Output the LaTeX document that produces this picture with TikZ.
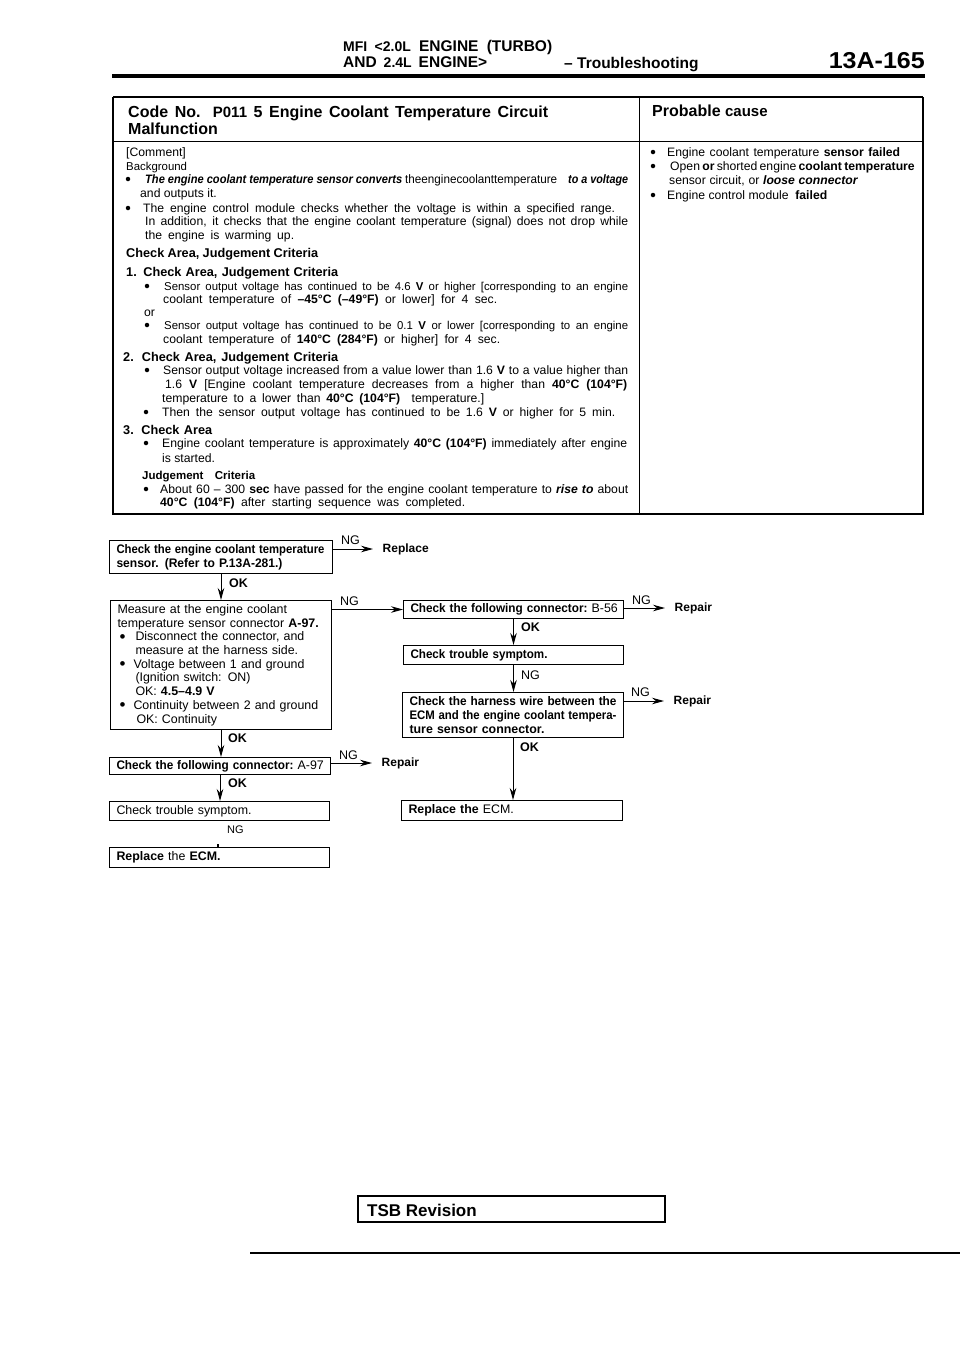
\documentclass[tikz,border=0pt]{standalone}
\usepackage{graphicx}
\usepackage{fontspec}
\setmainfont{Liberation Sans}
\usetikzlibrary{arrows.meta}
\newcommand{\just}[2]{\makebox[#1pt][s]{#2}}
\newcommand{\fitto}[2]{\resizebox{#1pt}{\height}{#2}}
\newcommand{\bul}{\makebox[10pt][c]{\raisebox{-1.5pt}{\fontsize{17}{13}\selectfont •}}}
\tikzset{
	x=1pt, y=-1pt,
	body/.style={anchor=base west, inner sep=0pt, font=\fontsize{12.2}{14}\selectfont},
	small/.style={anchor=base west, inner sep=0pt, font=\fontsize{11.4}{13}\selectfont},
	area/.style={anchor=base west, inner sep=0pt, font=\bfseries\fontsize{12.7}{14}\selectfont},
	head/.style={anchor=base west, inner sep=0pt, font=\bfseries\fontsize{16}{18}\selectfont},
	title/.style={anchor=base west, inner sep=0pt, font=\bfseries\fontsize{15.5}{18}\selectfont},
	dot/.style={circle, fill=black, inner sep=0pt, minimum size=4.5pt},
	flowbox/.style n args={2}{draw, line width=1pt, anchor=north west, inner xsep=7pt, inner ysep=0pt, minimum width=#1pt, minimum height=#2pt, text width={#1pt-14pt}, align=left, font=\fontsize{12.4}{13.7}\selectfont},
	result/.style={anchor=west, inner xsep=9.5pt, inner ysep=0pt, font=\bfseries\fontsize{12}{14}\selectfont},
	oklabel/.style={anchor=west, inner sep=0pt, font=\bfseries\fontsize{12.5}{14}\selectfont},
	nglabel/.style={anchor=west, inner sep=0pt, font=\fontsize{12.5}{14}\selectfont},
	flow/.style={line width=1pt, -{Stealth[length=12pt,width=6.5pt]}},
	rule/.style={line width=#1pt},
}
\begin{document}
\begin{tikzpicture}
	\useasboundingbox (0,0) rectangle (960,1358);
	% page head
	\node[title] (title1) at (343,51) {\just{209}{{\fontsize{14}{16}\selectfont MFI <2.0L} ENGINE (TURBO)}};
	\node[title] (title2) at (343,67) {\just{144}{AND {\fontsize{14}{16}\selectfont 2.4L} ENGINE>}};
	\node[title] (section) at (564,68) {-- Troubleshooting};
	\node[anchor=base east, inner sep=0pt, font=\bfseries\fontsize{23}{25}\selectfont] (pageno) at (925,68) {\fitto{96}{13A-165}};
	\draw[rule=3.5] (112,76) -- (925,76);
	% table frame
	\draw[rule=1.5] (113,97) -- (923,97);
	\draw[rule=2] (113,97) -- (113,514) -- (923,514) -- (923,97);
	\draw[rule=1] (113,141) -- (923,141);
	\draw[rule=1] (639,97) -- (639,514);
	\node[head] (code1) at (128,117) {\just{420}{Code No. {\fontsize{15}{17}\selectfont P011} 5 Engine Coolant Temperature Circuit}};
	\node[head] (code2) at (128,134) {Malfunction};
	\node[head] (causehead) at (652,116) {Probable {\fontsize{15}{17}\selectfont cause}};
	% left column
	\node[body] (comment) at (126,156) {[Comment]};
	\node[small] (background) at (126,170) {Background};
	\node[body] (sl1) at (145,183) {\fitto{257}{\bfseries\itshape The engine coolant temperature sensor converts}};
	\node[body] (sl1m) at (405,183) {\fitto{152}{theenginecoolanttemperature}};
	\node[body] (sl1b) at (568,183) {\fitto{60}{\bfseries\itshape to a voltage}};
	\node[body] (sl2) at (140,197) {and outputs it.};
	\node[body] (sl3) at (143,212) {\just{472}{The engine control module checks whether the voltage is within a specified range.}};
	\node[body] (sl4) at (145,225) {\just{483}{In addition, it checks that the engine coolant temperature (signal) does not drop while}};
	\node[body] (sl5) at (145,239) {\just{149}{the engine is warming up.}};
	\node[area] (area0) at (126,257) {\just{192}{Check Area, Judgement Criteria}};
	\node[area] (area1) at (126,276) {\just{212}{1. Check Area, Judgement Criteria}};
	\node[small] (a1) at (164,290) {\just{464}{Sensor output voltage has continued to be 4.6 \textbf{V} or higher [corresponding to an engine}};
	\node[body] (a2) at (163,303) {\just{334}{coolant temperature of \textbf{--45°C (--49°F)} or lower] for 4 sec.}};
	\node[body] (a3) at (144,316) {or};
	\node[small] (a4) at (164,329) {\just{464}{Sensor output voltage has continued to be 0.1 \textbf{V} or lower [corresponding to an engine}};
	\node[body] (a5) at (163,343) {\just{337}{coolant temperature of \textbf{140°C (284°F)} or higher] for 4 sec.}};
	\node[area] (area2) at (123,361) {\just{215}{2. Check Area, Judgement Criteria}};
	\node[body] (b1) at (163,374) {\just{465}{Sensor output voltage increased from a value lower than 1.6 \textbf{V} to a value higher than}};
	\node[body] (b2) at (165,388) {\just{462}{1.6 \textbf{V} [Engine coolant temperature decreases from a higher than \textbf{40°C (104°F)}}};
	\node[body] (b3) at (162,402) {\just{322}{temperature to a lower than \textbf{40°C (104°F)}\ \ temperature.]}};
	\node[body] (b4) at (162,416) {\just{453}{Then the sensor output voltage has continued to be 1.6 \textbf{V} or higher for 5 min.}};
	\node[area] (area3) at (123,434) {\just{89}{3. Check Area}};
	\node[body] (c1) at (162,447) {\just{465}{Engine coolant temperature is approximately \textbf{40°C (104°F)} immediately after engine}};
	\node[body] (c2) at (162,462) {is started.};
	\node[area, font=\bfseries\fontsize{11.5}{13}\selectfont] (area4) at (142,479) {\just{113}{Judgement\ \ Criteria}};
	\node[body] (d1) at (160,493) {\just{468}{About 60 -- 300 \textbf{sec} have passed for the engine coolant temperature to \textbf{\itshape rise to} about}};
	\node[body] (d2) at (160,506) {\just{305}{\textbf{40°C (104°F)} after starting sequence was completed.}};
	% right column
	\node[body] (p1) at (667,156) {\just{233}{Engine coolant temperature \textbf{sensor failed}}};
	\node[body] (p2) at (670,170) {\just{242}{Open \textbf{or} shorted engine \textbf{coolant temperature}}};
	\node[body] (p3) at (669,184) {\just{189}{sensor circuit, or \textbf{\itshape loose connector}}};
	\node[body] (p4) at (667,199) {Engine control module\ \ \textbf{failed}};
	% bullets
	\foreach \x/\y [count=\i] in {128/179, 128/208, 147/286, 147/325, 147/370, 146/412, 146/443, 146/489, 653/152, 653/166, 653/195}
		\node[dot] (bullet\i) at (\x,\y) {};
	% flow chart, left branch
	\node[flowbox={223}{33}] (sensor) at (109,540) {\fitto{208}{\bfseries Check the engine coolant temperature}\\\fitto{166}{\bfseries sensor. (Refer to P.13A-281.)}};
	\node[flowbox={221}{129}] (measure) at (110,600) {\just{175}{Measure at the engine coolant}\\\just{205}{temperature sensor connector \textbf{A-97.}}\\\bul\hspace*{8pt}\just{188}{Disconnect the connector, and}\\\hspace*{18pt}measure at the harness side.\\\bul\hspace*{6pt}\just{179}{Voltage between 1 and ground}\\\hspace*{18pt}(Ignition switch: ON)\\\hspace*{18pt}OK: \textbf{4.5--4.9 V}\\\bul\hspace*{6pt}\just{189}{Continuity between 2 and ground}\\\hspace*{19pt}OK: Continuity};
	\node[flowbox={221}{17}] (connA) at (109,757) {\mbox{\fitto{177}{\bfseries Check the following connector:} A-97}};
	\node[flowbox={220}{19}] (symptomA) at (109,801) {Check trouble symptom.};
	\node[flowbox={220}{20}] (ecmA) at (109,847) {\textbf{Replace} the \textbf{ECM.}};
	% flow chart, right branch
	\node[flowbox={220}{18}] (connB) at (403,600) {\mbox{\fitto{177}{\bfseries Check the following connector:} B-56}};
	\node[flowbox={220}{19}] (symptomB) at (403,645) {\fitto{137}{\bfseries Check trouble symptom.}};
	\node[flowbox={221}{45}] (harness) at (402,692) {\fitto{207}{\bfseries Check the harness wire between the}\\\fitto{207}{\bfseries ECM and the engine coolant tempera-}\\\fitto{135}{\bfseries ture sensor connector.}};
	\node[flowbox={221}{20}] (ecmB) at (401,800) {\textbf{Replace the} ECM.};
	\node[result] (replace) at (373,549) {Replace};
	\node[result] (repairA) at (372,763) {Repair};
	\node[result] (repairB) at (665,608) {Repair};
	\node[result] (repairC) at (664,701) {Repair};
	\coordinate (tick) at (218,844);
	% connectors
	\draw[flow] (sensor.east |- replace.west) -- (replace.west);
	\draw[flow] (measure.east |- connB.west) -- (connB.west);
	\draw[flow] (connA.east |- repairA.west) -- (repairA.west);
	\draw[flow] (connB.east |- repairB.west) -- (repairB.west);
	\draw[flow] (harness.east |- repairC.west) -- (repairC.west);
	\draw[flow] (sensor.south) -- (sensor.south |- measure.north);
	\draw[flow] (measure.south) -- (measure.south |- connA.north);
	\draw[flow] (connA.south) -- (connA.south |- symptomA.north);
	\draw[line width=1.5pt] (tick) -- (tick |- ecmA.north);
	\draw[flow] (connB.south) -- (connB.south |- symptomB.north);
	\draw[flow] (symptomB.south) -- (symptomB.south |- harness.north);
	\draw[flow] (harness.south) -- (harness.south |- ecmB.north);
	% connector labels
	\node[nglabel] (ng1) at (341,540) {NG};
	\node[nglabel] (ng2) at (340,601) {NG};
	\node[nglabel] (ng3) at (339,755) {NG};
	\node[nglabel] (ng4) at (632,600) {NG};
	\node[nglabel] (ng5) at (631,692) {NG};
	\node[nglabel] (ng6) at (521,675) {NG};
	\node[nglabel, font=\fontsize{11}{13}\selectfont] (ng7) at (227,830) {NG};
	\node[oklabel] (ok1) at (229,583) {OK};
	\node[oklabel] (ok2) at (228,738) {OK};
	\node[oklabel] (ok3) at (228,783) {OK};
	\node[oklabel] (ok4) at (521,627) {OK};
	\node[oklabel] (ok5) at (520,747) {OK};
	% revision box
	\draw[rule=1.2] (358,1196) -- (665,1196) -- (665,1222) -- (358,1222) -- cycle;
	\node[anchor=base west, inner sep=0pt, font=\bfseries\fontsize{17}{19}\selectfont] (revision) at (367,1216) {TSB Revision};
	\draw[rule=1.2] (250,1253) -- (960,1253);
\end{tikzpicture}
\end{document}
